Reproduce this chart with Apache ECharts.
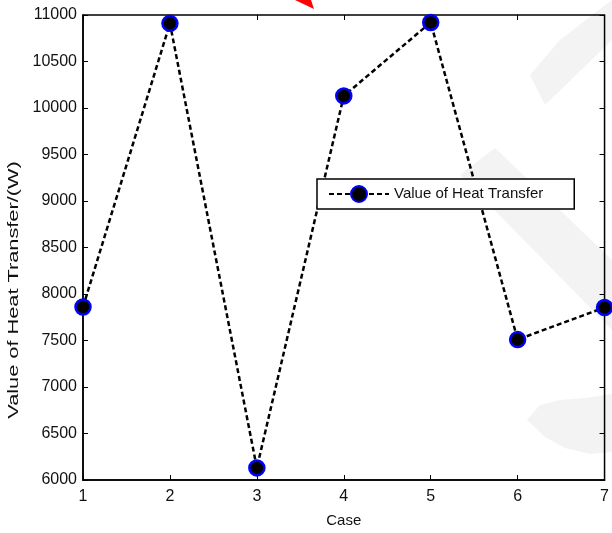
<!DOCTYPE html>
<html><head><meta charset="utf-8">
<script src="https://cdn.jsdelivr.net/npm/echarts@6/dist/echarts.min.js"></script>
<style>html,body{margin:0;padding:0;background:#fff}#c{width:612px;height:533px}</style>
</head><body><div id="c"></div>
<script>
const cases = [1, 2, 3, 4, 5, 6, 7];
const heatTransfer = [7860, 10910, 6130, 10130, 10920, 7510, 7855];
const seriesName = 'Value of Heat Transfer';
const xTitle = 'Case';
const yTitle = 'Value of Heat Transfer/(W)';

const chart = echarts.init(document.getElementById('c'), null, {renderer: 'canvas'});
const font = 'Liberation Sans, Arial, sans-serif';
const tickCommon = {show: true, inside: true, length: 5, lineStyle: {color: '#000', width: 1}};
const wm = '#f3f3f3';
chart.setOption({
  animation: false,
  backgroundColor: '#fff',
  graphic: [
    {type: 'polygon', z: -1, shape: {points: [[545,105],[612,40],[612,0],[560,40],[530,75]]}, style: {fill: wm}},
    {type: 'polygon', z: -1, shape: {points: [[460,175],[495,148],[612,260],[612,330]]}, style: {fill: wm}},
    {type: 'polygon', z: -1, shape: {points: [[527,420],[540,405],[560,400],[585,398],[612,394],[612,452],[590,454],[565,448],[545,437]]}, style: {fill: wm}},
    {type: 'polygon', z: -1, shape: {points: [[295,0],[311,0],[314,9]]}, style: {fill: '#ff0000'}},
    {type: 'text', x: 14, y: 290, rotation: Math.PI / 2, scaleX: 1.45, scaleY: 1,
      style: {text: yTitle, font: '15px ' + font, fill: '#111', textAlign: 'center', textVerticalAlign: 'middle'}}
  ],
  grid: {left: 83, top: 15, right: 3, bottom: 49, show: true, borderColor: '#000', borderWidth: 1.5, backgroundColor: 'transparent'},
  legend: {
    show: true, left: 317, top: 179,
    padding: [6, 31, 6, 11],
    backgroundColor: '#fff', borderColor: '#000', borderWidth: 1.5, borderRadius: 0,
    itemWidth: 60, itemHeight: 20, itemGap: 0,
    textStyle: {fontFamily: font, fontSize: 15, color: '#111'},
    data: [{name: seriesName}]
  },
  xAxis: [{
    type: 'value', min: 1, max: 7, interval: 1,
    name: xTitle, nameLocation: 'middle', nameGap: 33,
    nameTextStyle: {fontFamily: font, fontSize: 15, color: '#111'},
    axisLine: {show: true, lineStyle: {color: '#000', width: 1.5}},
    axisTick: tickCommon,
    axisLabel: {fontFamily: font, fontSize: 16, color: '#111', margin: 9, formatter: v => String(v)},
    splitLine: {show: false}
  }, {
    type: 'value', min: 1, max: 7, interval: 1, position: 'top',
    axisLine: {show: false}, axisTick: tickCommon, axisLabel: {show: false}, splitLine: {show: false}
  }],
  yAxis: [{
    type: 'value', min: 6000, max: 11000, interval: 500,
    axisLine: {show: true, lineStyle: {color: '#000', width: 1.5}},
    axisTick: tickCommon,
    axisLabel: {fontFamily: font, fontSize: 16, color: '#111', margin: 6, formatter: v => String(v)},
    splitLine: {show: false}
  }, {
    type: 'value', min: 6000, max: 11000, interval: 500, position: 'right',
    axisLine: {show: false}, axisTick: tickCommon, axisLabel: {show: false}, splitLine: {show: false}
  }],
  series: [{
    name: seriesName, type: 'line',
    data: cases.map((c, i) => [c, heatTransfer[i]]),
    symbol: 'circle', symbolSize: 15,
    itemStyle: {color: '#000', borderColor: '#0000ff', borderWidth: 2.5},
    lineStyle: {color: '#000', width: 2.5, type: [5, 3]},
    clip: false
  }]
});
</script></body></html>
